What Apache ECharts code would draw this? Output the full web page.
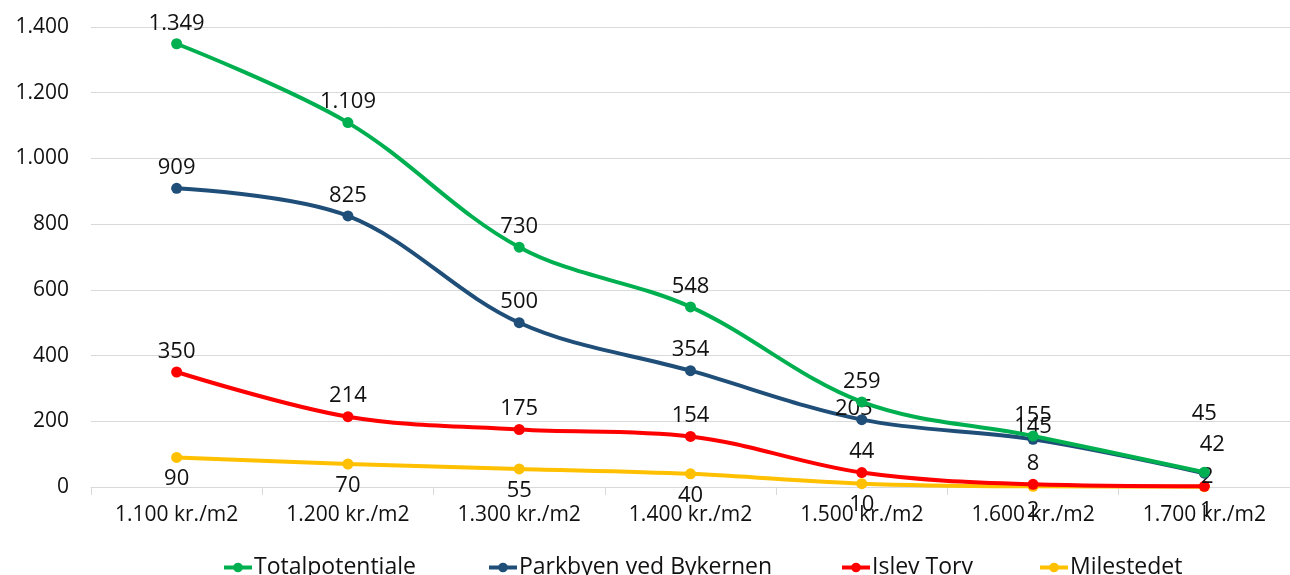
<!DOCTYPE html>
<html><head><meta charset="utf-8">
<script src="https://cdn.jsdelivr.net/npm/echarts@6/dist/echarts.min.js"></script>
<style>html,body{margin:0;padding:0;background:#fff}#c{width:1290px;height:575px}</style>
</head><body><div id="c"></div>
<script>
const categories = ['1.100 kr./m2','1.200 kr./m2','1.300 kr./m2','1.400 kr./m2','1.500 kr./m2','1.600 kr./m2','1.700 kr./m2'];
const seriesNames = ['Totalpotentiale','Parkbyen ved Bykernen','Islev Torv','Milestedet'];
const totalpotentiale = [1349,1109,730,548,259,155,45];
const parkbyen = [909,825,500,354,205,145,42];
const islevTorv = [350,214,175,154,44,8,2];
const milestedet = [90,70,55,40,10,2,1];
const yTicks = [0,200,400,600,800,1000,1200,1400];

const colors = ['#00B050','#1F4E79','#FF0000','#FFC000'];
const font = 'Open Sans, Noto Sans, sans-serif';
function fmt(v){ return String(v).replace(/\B(?=(\d{3})+(?!\d))/g,'.'); }

// per-point label adjustments (style only)
const labelAdjust = {
  0:{6:{offset:[0,-38]}},
  1:{4:{offset:[-8,10]},5:{offset:[0,8]},6:{offset:[8,-8]}},
  2:{6:{offset:[3,11]}},
  3:{5:{offset:[0,3]},6:{offset:[2,3]}}
};
const allData = [totalpotentiale, parkbyen, islevTorv, milestedet];
const series = allData.map((arr, si) => ({
  name: seriesNames[si],
  type: 'line',
  smooth: 0.35,
  symbol: 'circle',
  symbolSize: 11,
  lineStyle: {width: 4, color: colors[si]},
  itemStyle: {color: colors[si]},
  z: 10 - si,
  label: {
    show: true,
    position: si === 3 ? 'bottom' : 'top',
    distance: si === 3 ? 5 : 4,
    color: '#111',
    fontFamily: font,
    fontSize: 22,
    formatter: p => fmt(p.value)
  },
  data: arr.map((v, i) => {
    const adj = labelAdjust[si] && labelAdjust[si][i];
    return adj ? {value: v, label: adj} : v;
  })
}));

const chart = echarts.init(document.getElementById('c'));
const legendPos = [222, 487, 840, 1038];
chart.setOption({
  animation: false,
  color: colors,
  grid: {left: 91, top: 27, width: 1205, height: 460, containLabel: false},
  xAxis: {
    type: 'category',
    data: categories,
    boundaryGap: true,
    axisLine: {lineStyle: {color: '#D9D9D9', width: 1}},
    axisTick: {show: true, length: 8, lineStyle: {color: '#D9D9D9'}},
    axisLabel: {color: '#111', fontFamily: font, fontSize: 21, margin: 18}
  },
  yAxis: {
    type: 'value',
    min: yTicks[0], max: yTicks[yTicks.length-1], interval: 200,
    axisLine: {show: false},
    axisTick: {show: false},
    splitLine: {lineStyle: {color: '#D9D9D9', width: 1}},
    axisLabel: {color: '#111', fontFamily: font, fontSize: 21, margin: 22, formatter: v => fmt(v)}
  },
  legend: seriesNames.map((n, i) => ({
    data: [n],
    left: legendPos[i],
    top: 556,
    padding: 0,
    itemWidth: 28,
    itemHeight: 12,
    itemGap: 0,
    lineStyle: {width: 4},
    textStyle: {color: '#111', fontFamily: font, fontSize: 23, padding: [0,0,0,-3]}
  })),
  series: series
});
</script>
</body></html>
